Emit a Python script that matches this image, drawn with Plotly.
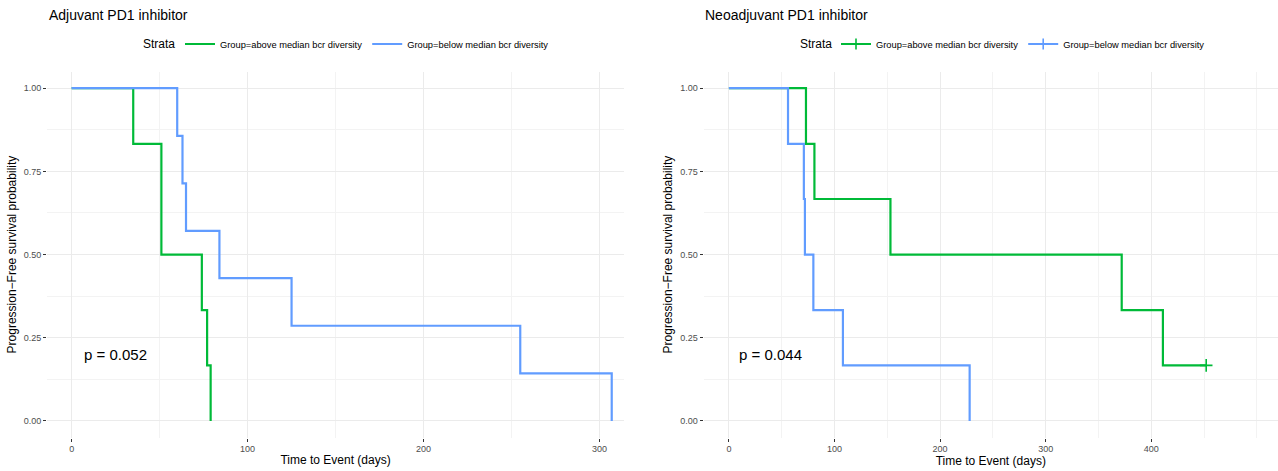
import plotly.graph_objects as go

# ---- data ----
adj_above_t = [0, 35, 51, 74, 77, 79]
adj_above_s = [1.0, 0.833, 0.5, 0.333, 0.167, 0.0]
adj_below_t = [0, 60, 63, 65, 84, 125, 255, 307]
adj_below_s = [1.0, 0.857, 0.714, 0.571, 0.429, 0.286, 0.143, 0.0]

neo_above_t = [0, 73, 81, 153, 372, 411, 452]
neo_above_s = [1.0, 0.833, 0.667, 0.5, 0.333, 0.167, 0.167]
neo_above_cens_t = [452]
neo_above_cens_s = [0.167]
neo_below_t = [0, 56, 71, 72, 80, 108, 228]
neo_below_s = [1.0, 0.833, 0.667, 0.5, 0.333, 0.167, 0.0]

labels = ["Group=above median bcr diversity", "Group=below median bcr diversity"]
pvals = ["p = 0.052", "p = 0.044"]
titles = ["Adjuvant PD1 inhibitor", "Neoadjuvant PD1 inhibitor"]
y_ticks = [0, 0.25, 0.5, 0.75, 1.0]
x_ticks_adj = [0, 100, 200, 300]
x_ticks_neo = [0, 100, 200, 300, 400]

GREEN = "#00BA38"
BLUE = "#619CFF"
FONT = "Liberation Sans, Arial, sans-serif"
LW = 2.2
W, H = 1278, 471

fig = go.Figure()

# left panel curves
fig.add_trace(go.Scatter(x=adj_above_t, y=adj_above_s, mode="lines", line=dict(color=GREEN, width=LW, shape="hv"),
                         name=labels[0], legend="legend", xaxis="x", yaxis="y"))
fig.add_trace(go.Scatter(x=adj_below_t, y=adj_below_s, mode="lines", line=dict(color=BLUE, width=LW, shape="hv"),
                         name=labels[1], legend="legend", xaxis="x", yaxis="y"))

# right panel curves
fig.add_trace(go.Scatter(x=neo_above_t, y=neo_above_s, mode="lines", line=dict(color=GREEN, width=LW, shape="hv"),
                         showlegend=False, xaxis="x2", yaxis="y2"))
fig.add_trace(go.Scatter(x=neo_above_cens_t, y=neo_above_cens_s, mode="markers",
                         marker=dict(symbol="cross-thin", size=9, line=dict(color=GREEN, width=1.6)),
                         showlegend=False, xaxis="x2", yaxis="y2"))
fig.add_trace(go.Scatter(x=neo_below_t, y=neo_below_s, mode="lines", line=dict(color=BLUE, width=LW, shape="hv"),
                         showlegend=False, xaxis="x2", yaxis="y2"))
# legend entries for right panel (line + censor cross)
for lab, col in zip(labels, [GREEN, BLUE]):
    fig.add_trace(go.Scatter(x=[None], y=[None], mode="lines+markers", name=lab, legend="legend2",
                             line=dict(color=col, width=LW),
                             marker=dict(symbol="cross-thin", size=8, line=dict(color=col, width=1.6)),
                             xaxis="x2", yaxis="y2"))

ydom = [0.071, 0.848]
axis_common = dict(
    showline=False, zeroline=False, ticks="outside", ticklen=3, tickwidth=1, tickcolor="#333333",
    gridcolor="#EBEBEB", gridwidth=1,
    tickfont=dict(family=FONT, size=9, color="#4D4D4D"),
)
xtitle = dict(text="Time to Event (days)", font=dict(family=FONT, size=12, color="#000000"), standoff=2)
ytitle = dict(text="Progression\u2212Free survival probability", font=dict(family=FONT, size=12, color="#000000"), standoff=4)
minor_x = dict(dtick=50, tick0=0, showgrid=True, gridcolor="#F3F3F3", gridwidth=1, ticks="")
minor_y = dict(dtick=0.125, tick0=0, showgrid=True, gridcolor="#F3F3F3", gridwidth=1, ticks="")
leg_y = 1 - 44 / H
leg_common = dict(orientation="h", y=leg_y, yanchor="middle", xanchor="left",
                  font=dict(family=FONT, size=9.3, color="#000"), itemwidth=30, bgcolor="rgba(0,0,0,0)",
                  tracegroupgap=0)

fig.update_layout(
    width=W, height=H,
    margin=dict(l=0, r=0, t=0, b=0),
    paper_bgcolor="white", plot_bgcolor="white",
    font=dict(family=FONT),
    xaxis=dict(domain=[0.0368, 0.4883], range=[-14, 314], tickvals=x_ticks_adj, title=xtitle,
               minor=minor_x, anchor="y", **axis_common),
    yaxis=dict(domain=ydom, range=[-0.05, 1.05], tickvals=y_ticks, tickformat=".2f", title=ytitle,
               minor=minor_y, anchor="x", **axis_common),
    xaxis2=dict(domain=[0.5505, 1.0], range=[-24, 520], tickvals=x_ticks_neo, title=xtitle,
                minor=minor_x, anchor="y2", **axis_common),
    yaxis2=dict(domain=ydom, range=[-0.05, 1.05], tickvals=y_ticks, tickformat=".2f", title=ytitle,
                minor=minor_y, anchor="x2", **axis_common),
    legend=dict(x=180 / W, **leg_common),
    legend2=dict(x=836 / W, **leg_common),
)

# "Strata" legend titles
for xs in (141, 798):
    fig.add_annotation(text="Strata", xref="paper", yref="paper", x=xs / W, y=leg_y,
                       xanchor="left", yanchor="middle", showarrow=False,
                       font=dict(family=FONT, size=12, color="#000"))

# panel titles
fig.add_annotation(text=titles[0], xref="paper", yref="paper", x=47 / W, y=1 - 15 / H,
                   xanchor="left", yanchor="middle", showarrow=False, font=dict(family=FONT, size=14, color="#000"))
fig.add_annotation(text=titles[1], xref="paper", yref="paper", x=703 / W, y=1 - 15 / H,
                   xanchor="left", yanchor="middle", showarrow=False, font=dict(family=FONT, size=14, color="#000"))

# p-values
fig.add_annotation(text=pvals[0], xref="x", yref="y", x=6, y=0.2, xanchor="left", yanchor="middle",
                   showarrow=False, font=dict(family=FONT, size=15, color="#000"))
fig.add_annotation(text=pvals[1], xref="x2", yref="y2", x=8, y=0.2, xanchor="left", yanchor="middle",
                   showarrow=False, font=dict(family=FONT, size=15, color="#000"))

fig.write_html("out.html")
